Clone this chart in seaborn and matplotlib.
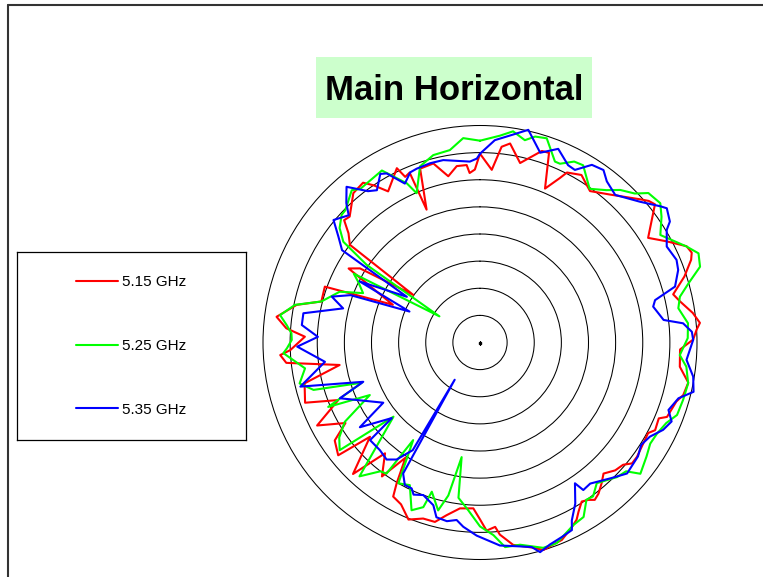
import numpy as np
import pandas as pd
import matplotlib
matplotlib.use("Agg")
import matplotlib.pyplot as plt
import matplotlib.patches as mpatches
import seaborn as sns

# antenna pattern, bearing in degrees (clockwise from top) and level in dB
red_deg = [0.0, 3.9, 6.3, 8.6, 12.6, 17.9, 20.0, 22.9, 25.9, 27.1, 31.2, 36.0, 41.3, 48.2, 50.0, 51.7,
           58.1, 61.5, 65.0, 67.0, 68.6, 72.1, 76.0, 78.3, 82.1, 84.9, 86.6, 89.2, 92.0, 96.9, 100.9,
           104.5, 106.7, 111.7, 113.0, 116.6, 118.3, 126.1, 128.5, 130.5, 133.4, 136.7, 139.2, 141.9,
           143.9, 145.5, 147.4, 149.8, 151.4, 153.5, 157.5, 160.1, 163.0, 165.4, 170.7, 174.1, 175.3,
           178.0, 180.0, 182.3, 186.9, 190.9, 194.1, 197.9, 202.0, 206.0, 209.4, 210.6, 212.9, 216.2,
           220.6, 224.0, 229.4, 231.5, 236.0, 239.1, 243.0, 247.9, 251.0, 256.9, 260.9, 264.0, 266.4,
           267.7, 271.9, 274.2, 277.2, 281.6, 284.5, 289.8, 293.4, 299.4, 301.7, 305.5, 306.9, 309.7,
           312.0, 314.0, 319.7, 323.8, 325.9, 328.7, 334.5, 335.7, 337.5, 338.1, 341.0, 345.4, 349.2,
           352.5, 355.7, 356.5, 358.3, 360.0]
red_db = [-5.2, -8.1, -3.7, -2.9, -6.1, -2.9, -2.8, -9.2, -6.3, -4.8, -3.9, -5.5, -3.7, -0.4, 0.6, 1.1,
          -3.5, -0.9, 2.0, 2.4, 1.8, -0.4, -3.3, -2.4, -0.4, 0.7, 0.0, -0.7, -3.1, -2.9, -0.9,
          -1.3, -2.2, -2.9, -4.2, -3.9, -4.8, -4.2, -4.2, -5.3, -5.7, -6.8, -5.7, -4.6,
          -4.1, -4.8, -5.2, -3.9, -2.8, -2.0, -0.6, -0.4, 0.0, -0.9, -2.2, -4.4, -5.9,
          -5.3, -7.4, -9.4, -9.2, -7.6, -5.9, -5.9, -4.8, -6.8, -7.4, -9.8, -14.7, -9.4,
          -13.1, -6.3, -13.3, -6.6, -7.7, -11.1, -6.3, -11.8, -5.9, -6.8, -13.8, -4.1, -3.1,
          -5.0, -7.7, -4.2, -2.2, -5.5, -9.8, -9.6, -22.5, -12.2, -14.0, -24.9, -10.0, -8.5,
          -6.3, -6.6, -3.9, -3.5, -5.0, -7.4, -4.4, -6.5, -6.1, -13.6, -6.1, -5.9, -8.8,
          -7.2, -7.2, -8.7, -8.1, -5.2]

green_deg = [0.0, 5.5, 8.9, 12.5, 15.0, 18.1, 22.5, 24.1, 27.5, 30.2, 35.5, 39.7, 42.6, 46.1, 48.4,
             52.3, 55.3, 59.2, 65.1, 67.8, 71.0, 74.1, 77.1, 80.2, 84.7, 88.8, 93.6, 96.7, 101.1,
             105.8, 110.2, 113.4, 117.2, 120.7, 124.4, 129.3, 131.4, 134.5, 140.3, 143.7, 145.9,
             149.3, 152.9, 159.1, 162.9, 168.8, 173.0, 176.0, 180.0, 184.0, 187.9, 189.1, 191.7,
             194.0, 197.9, 199.0, 202.2, 206.2, 210.1, 214.4, 215.5, 217.7, 222.0, 229.4, 232.5,
             236.0, 239.6, 244.5, 247.0, 251.2, 254.1, 257.2, 261.6, 266.9, 268.3, 270.8, 272.8,
             275.2, 277.8, 281.5, 284.5, 289.9, 292.9, 296.5, 298.6, 302.8, 304.4, 306.4, 309.2,
             312.7, 314.5, 319.9, 322.1, 330.3, 335.3, 337.0, 341.2, 346.0, 351.1, 355.3, 360.0]
green_db = [-2.8, -1.7, -0.6, -1.8, -0.7, -0.4, -3.9, -3.9, -2.4, -2.2, -5.2, -3.5, -1.8, -0.4, 1.5,
            2.0, 0.7, -1.3, 2.0, 3.5, 2.9, 0.0, -2.2, -2.9, -1.5, -1.7, -3.1, -1.7, -0.9,
            -1.1, -1.3, -2.6, -3.3, -3.5, -2.8, -1.8, -4.1, -4.6, -6.3, -4.8, -5.0,
            -2.6, -2.2, -0.4, -0.4, -2.0, -2.0, -4.4, -6.1, -9.0, -11.1, -18.6, -11.2,
            -8.1, -11.1, -7.9, -6.6, -10.7, -10.0, -18.2, -10.3, -10.0, -6.8, -19.0, -7.4,
            -8.7, -11.1, -17.5, -9.6, -17.0, -8.1, -5.9, -7.4, -3.7, -4.4, -5.3, -5.2,
            -4.2, -2.8, -5.2, -9.8, -12.5, -16.6, -14.9, -13.5, -31.1, -14.7, -8.7, -6.6,
            -5.3, -5.2, -3.3, -4.1, -3.5, -7.7, -10.1, -5.7, -4.4, -4.1, -2.2, -2.8]

blue_deg = [0.0, 4.2, 8.7, 12.8, 17.6, 22.0, 26.4, 28.8, 32.2, 35.6, 38.2, 42.5, 48.7, 53.0, 54.3,
            57.5, 58.9, 62.8, 67.2, 69.9, 74.0, 76.4, 78.3, 83.0, 84.6, 87.1, 89.3, 94.8, 99.1,
            103.0, 105.7, 109.7, 112.4, 115.5, 119.0, 122.4, 125.8, 131.7, 135.9, 142.0, 145.0,
            146.0, 149.4, 152.7, 153.9, 157.2, 160.9, 164.0, 165.8, 168.9, 174.4, 181.0, 185.2,
            187.5, 190.5, 194.0, 196.0, 200.4, 203.6, 205.1, 207.8, 210.4, 214.2, 212.0, 215.5,
            218.6, 222.9, 228.4, 229.4, 234.8, 238.1, 248.3, 251.4, 256.2, 262.9, 268.7, 272.0,
            275.6, 279.4, 284.0, 287.2, 290.1, 293.7, 296.9, 302.0, 303.8, 306.8, 309.9, 314.1,
            316.2, 319.4, 323.5, 325.9, 329.4, 331.1, 334.7, 337.7, 340.0, 344.4, 348.6, 356.8,
            359.0, 360.0]
blue_db = [-5.2, -2.6, -1.3, 0.2, -3.3, -1.5, -3.5, -3.7, -1.3, -0.9, -2.2, -3.1, -0.7, 1.7, 2.4,
           1.5, 0.2, -1.3, -0.7, -1.1, -2.6, -6.8, -7.4, -5.9, -2.4, -0.9, -0.7, -1.8, -0.2,
           0.4, -2.0, -3.1, -1.8, -2.6, -4.2, -4.8, -4.1, -3.7, -5.2, -7.0, -6.8,
           -8.7, -5.5, -3.1, -1.5, -1.1, -0.6, 0.2, -1.1, -1.7, -2.4, -4.4, -5.9,
           -7.0, -6.5, -6.8, -8.8, -10.0, -9.4, -10.3, -10.3, -12.0, -31.7, -16.6, -13.5,
           -12.4, -12.9, -12.9, -18.6, -12.9, -19.0, -12.2, -17.3, -5.9, -11.2, -6.3, -10.1,
           -7.0, -7.0, -14.0, -11.4, -14.6, -25.8, -15.1, -24.1, -9.4, -7.4, -4.8, -6.3,
           -4.4, -2.2, -5.3, -6.1, -3.9, -4.4, -7.6, -6.1, -5.9, -5.7, -5.7, -6.6,
           -6.1, -5.2]

bands = ["5.15 GHz", "5.25 GHz", "5.35 GHz"]
colors = ["#ff0000", "#00ff00", "#0000ff"]
rings = [-35, -30, -25, -20, -15, -10, -5, 0]

frames = []
for band, deg, db in zip(bands, [red_deg, green_deg, blue_deg], [red_db, green_db, blue_db]):
    frames.append(pd.DataFrame({"theta": np.radians(deg), "level": db, "band": band}))
df = pd.concat(frames, ignore_index=True)

sns.set_style("white")
plt.rcParams['font.family'] = ['Liberation Sans', 'DejaVu Sans']
plt.rcParams['text.color'] = 'black'

W, H = 763, 577
fig = plt.figure(figsize=(W / 100, H / 100), dpi=100)
fig.patch.set_facecolor("white")

# polar axes: center (480, 342.5), outer ring radius 217 px, rmax = +4 dB
rmin, rmax = -40, 4
half = 217 * (rmax - rmin) / 40
cx, cy = 480, 342.5
ax = fig.add_axes([(cx - half) / W, (H - cy - half) / H, 2 * half / W, 2 * half / H],
                  projection="polar")
ax.set_theta_zero_location("N")
ax.set_theta_direction(-1)

sns.lineplot(data=df, x="theta", y="level", hue="band", palette=colors,
             sort=False, estimator=None, linewidth=1.5, ax=ax)
handles, labels = ax.get_legend_handles_labels()
ax.get_legend().remove()

ax.set_ylim(rmin, rmax)
ax.set_yticks(rings)
ax.set_yticklabels([])
ax.set_xticks([])
ax.tick_params(axis="both", length=0)
ax.yaxis.grid(True, color="black", linewidth=0.75)
ax.xaxis.grid(False)
ax.spines["polar"].set_visible(False)
ax.set_xlabel("")
ax.set_ylabel("")
ax.patch.set_alpha(0)
ax.plot([0], [rmin], marker="s", color="black", markersize=1.5)

# legend box
lx0, ly0, lx1, ly1 = 17, 252, 246, 440
leg_ax = fig.add_axes([lx0 / W, 1 - ly1 / H, (lx1 - lx0) / W, (ly1 - ly0) / H])
leg_ax.set_xticks([])
leg_ax.set_yticks([])
for s in leg_ax.spines.values():
    s.set_color("black")
    s.set_linewidth(0.9)
for h in handles:
    h.set_linewidth(1.5)
leg = leg_ax.legend(handles, labels, loc="center", frameon=False, fontsize=11,
                    handlelength=2.7, handletextpad=0.3, labelspacing=3.25)
for t in leg.get_texts():
    t.set_color("black")

# title with green box
fig.add_artist(mpatches.Rectangle((316 / W, 1 - 118 / H), (592 - 316) / W, (118 - 57) / H,
                                  transform=fig.transFigure, facecolor="#ccffcc",
                                  edgecolor="none"))
fig.text(454 / W, 1 - 100 / H, "Main Horizontal", ha="center", va="baseline",
         fontsize=25, fontweight="bold", color="black")

# page frame
fig.add_artist(plt.Line2D([8 / W, 1], [1 - 5 / H, 1 - 5 / H], transform=fig.transFigure,
                          color="#333333", linewidth=1.5))
fig.add_artist(plt.Line2D([8 / W, 8 / W], [0, 1 - 5 / H], transform=fig.transFigure,
                          color="#333333", linewidth=1.5))

fig.savefig("out.png", dpi=100)
